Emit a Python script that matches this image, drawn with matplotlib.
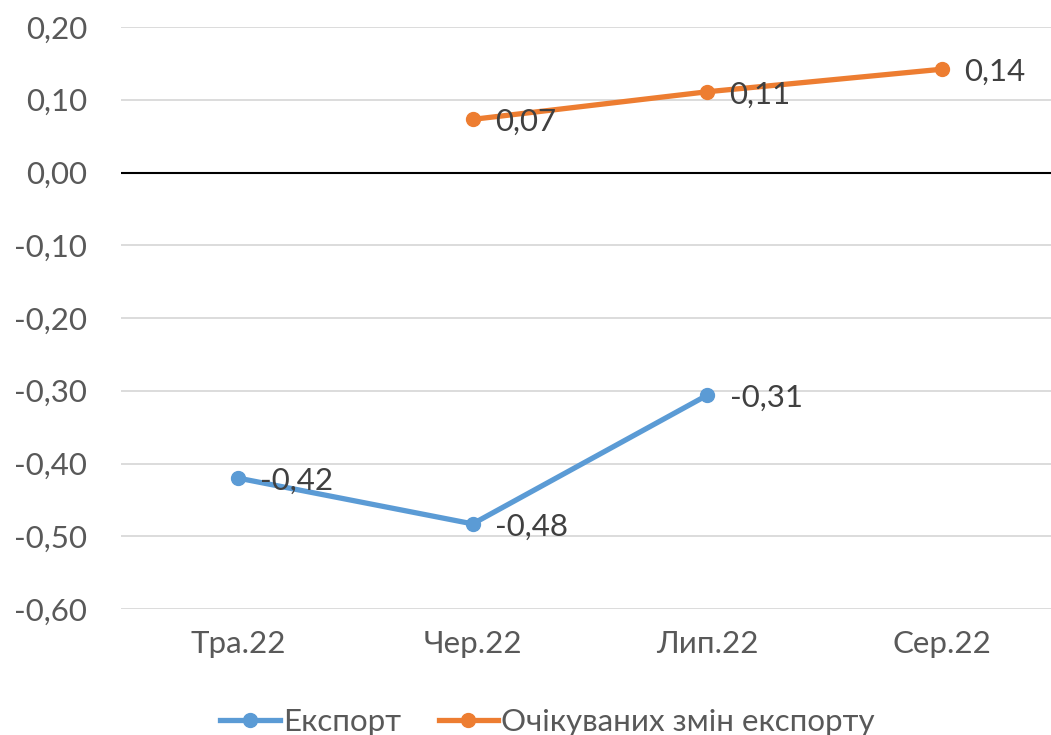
import matplotlib
matplotlib.use('Agg')
import matplotlib.pyplot as plt
import numpy as np

plt.rcParams['font.family'] = ['Lato', 'DejaVu Sans']

months = ['Тра.22', 'Чер.22', 'Лип.22', 'Сер.22']
export = [-0.42, -0.483, -0.306, np.nan]
expected = [np.nan, 0.073, 0.111, 0.142]
yticks = [0.2, 0.1, 0.0, -0.1, -0.2, -0.3, -0.4, -0.5, -0.6]

fig = plt.figure(figsize=(10.51, 7.35), dpi=100)
ax = fig.add_axes([120.5 / 1051, 1 - 609 / 735, 939 / 1051, (609 - 27) / 735])

x = np.arange(len(months))
ax.plot(x, export, color='#5B9BD5', lw=3.8, marker='o', ms=10, label='Експорт', zorder=3)
ax.plot(x, expected, color='#ED7D31', lw=3.8, marker='o', ms=10,
        label='Очікуваних змін експорту', zorder=3)

for xs, ys in [(x, export), (x, expected)]:
    for xi, yi in zip(xs, ys):
        if np.isnan(yi):
            continue
        ax.annotate(('%.2f' % yi).replace('.', ','), (xi, yi), xytext=(16, -2),
                    textcoords='offset points', va='center', ha='left',
                    fontsize=22.5, color='#404040', zorder=4)

ax.set_xlim(-0.5, 3.5)
ax.set_ylim(-0.6, 0.2)
ax.set_yticks(yticks)
ax.set_yticklabels([('%.2f' % v).replace('.', ',') for v in yticks])
ax.set_xticks(x)
ax.set_xticklabels(months)
ax.tick_params(axis='both', length=0, labelsize=22.5, colors='#595959')
ax.tick_params(axis='x', pad=15)
ax.tick_params(axis='y', pad=24)
ax.grid(axis='y', color='#D9D9D9', lw=1.3)
ax.axhline(0, color='black', lw=1.5, zorder=2)
for s in ax.spines.values():
    s.set_visible(False)

fig.legend(loc='lower center', bbox_to_anchor=(0.521, -0.04), ncol=2, frameon=False,
           fontsize=22.5, handlelength=1.9, columnspacing=1.2, handletextpad=0.1,
           labelcolor='#595959')

fig.savefig('out.png', dpi=100)
